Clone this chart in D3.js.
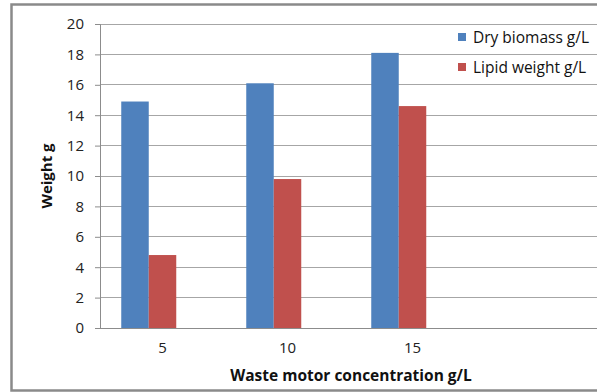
<!DOCTYPE html>
<html>
<head>
<meta charset="utf-8">
<script src="https://cdn.jsdelivr.net/npm/d3@7"></script>
<style>
  body { margin: 0; background: #fff; }
  text { font-family: "Open Sans", sans-serif; }
</style>
</head>
<body>
<svg width="597" height="392"></svg>
<script>
const categories = ["5", "10", "15"];
const seriesNames = ["Dry biomass g/L", "Lipid weight g/L"];
const dryBiomass = [14.9, 16.1, 18.1];
const lipidWeight = [4.8, 9.8, 14.6];
const yTicks = [0, 2, 4, 6, 8, 10, 12, 14, 16, 18, 20];
const colors = ["#4f81bd", "#c0504d"];

const margin = { left: 100, right: 0, top: 24, bottom: 64 };
const svg = d3.select('svg');
const width = +svg.attr('width');
const height = +svg.attr('height');
const innerWidth = width - margin.left - margin.right + 3;
const innerHeight = height - margin.top - margin.bottom;

// outer frame
svg.append('rect')
  .attr('x', 11.5).attr('y', 4.5)
  .attr('width', 620).attr('height', 386)
  .attr('fill', 'none')
  .attr('stroke', '#8a8a8a')
  .attr('stroke-width', 2.5);

const g = svg.append('g')
  .attr('transform', `translate(${margin.left}, ${margin.top})`);

// 3 categories occupy 3/4 of the plot width (4th slot empty)
const xScale = d3.scaleBand()
  .domain(categories)
  .range([0, innerWidth * 3 / 4]);
// 3 series slots (third empty) like the original clustered column
const xInner = d3.scaleBand()
  .domain([0, 1, 2])
  .range([xScale.bandwidth() * 0.17, xScale.bandwidth() * 0.83]);
const yScale = d3.scaleLinear()
  .domain([0, 20])
  .range([innerHeight, 0]);

// gridlines
g.append('g')
  .selectAll('line')
  .data(yTicks.slice(1))
  .join('line')
  .attr('x1', 0).attr('x2', innerWidth)
  .attr('y1', d => yScale(d)).attr('y2', d => yScale(d))
  .attr('stroke', '#a6a6a6')
  .attr('stroke-width', 1)
  .attr('shape-rendering', 'crispEdges');

// bars
const series = [dryBiomass, lipidWeight];
series.forEach((vals, si) => {
  g.append('g')
    .selectAll('rect')
    .data(vals)
    .join('rect')
    .attr('x', (d, i) => xScale(categories[i]) + xInner(si))
    .attr('y', d => yScale(d))
    .attr('width', xInner.bandwidth())
    .attr('height', d => innerHeight - yScale(d))
    .attr('fill', colors[si]);
});

// y axis
const yAxis = d3.axisLeft(yScale).tickValues(yTicks).tickSize(5).tickPadding(11);
const yAxisG = g.append('g').call(yAxis);
yAxisG.select('.domain').attr('stroke', '#8c8c8c');
yAxisG.selectAll('.tick line').attr('stroke', '#8c8c8c');
yAxisG.selectAll('.tick text')
  .attr('font-size', 15)
  .attr('fill', '#222')
  .style('font-family', '"Open Sans", sans-serif');

// x axis
const xAxis = d3.axisBottom(xScale).tickSize(0).tickPadding(14);
const xAxisG = g.append('g')
  .attr('transform', `translate(0, ${innerHeight})`)
  .call(xAxis);
xAxisG.select('.domain').remove();
xAxisG.selectAll('.tick text')
  .attr('font-size', 15)
  .attr('fill', '#222')
  .style('font-family', '"Open Sans", sans-serif');
xAxisG.append('line')
  .attr('x1', -5).attr('x2', innerWidth)
  .attr('stroke', '#8c8c8c')
  .attr('shape-rendering', 'crispEdges');

// axis titles
svg.append('text')
  .attr('transform', `translate(52, ${margin.top + innerHeight / 2}) rotate(-90)`)
  .attr('text-anchor', 'middle')
  .attr('font-size', 15)
  .attr('font-weight', 'bold')
  .attr('fill', '#111')
  .text('Weight g');

svg.append('text')
  .attr('x', 351)
  .attr('y', 381)
  .attr('text-anchor', 'middle')
  .attr('font-size', 15.5)
  .attr('font-weight', 'bold')
  .attr('fill', '#111')
  .text('Waste motor concentration g/L');

// legend
const legend = svg.append('g').attr('transform', 'translate(458, 33)');
seriesNames.forEach((name, i) => {
  const item = legend.append('g').attr('transform', `translate(0, ${i * 30})`);
  item.append('rect')
    .attr('width', 8).attr('height', 8)
    .attr('fill', colors[i]);
  item.append('text')
    .attr('x', 15).attr('y', 9.5)
    .attr('font-size', 15.5)
    .attr('fill', '#111')
    .text(name);
});
</script>
</body>
</html>
